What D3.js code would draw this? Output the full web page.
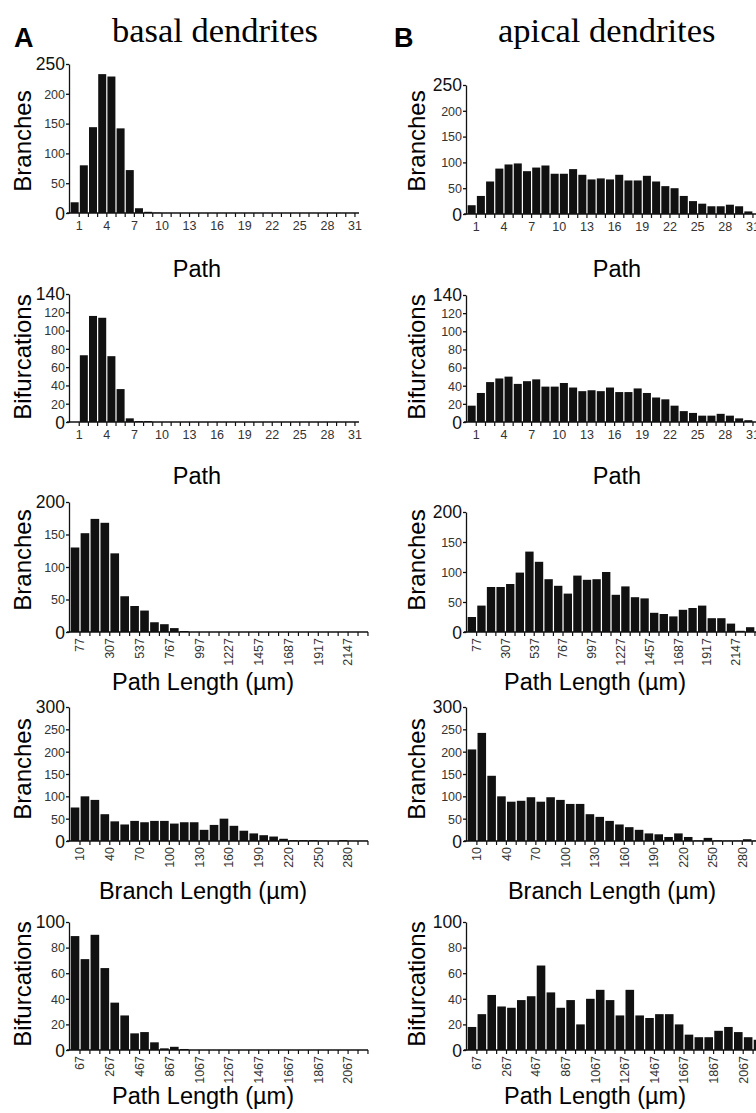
<html>
<head>
<meta charset="utf-8">
<script src="https://d3js.org/d3.v7.min.js"></script>
<style>
body{margin:0;background:#fff;}
svg{display:block;font-family:"Liberation Sans",Arial,sans-serif;}
</style>
</head>
<body>
<div id="chart"></div>
<script>
// tick labels (one label every 3rd bin)
const pathTicks = ['1','4','7','10','13','16','19','22','25','28','31'];
const pathLengthTicks = ['77','307','537','767','997','1227','1457','1687','1917','2147'];
const branchLengthTicks = ['10','40','70','100','130','160','190','220','250','280'];
const bifLengthTicks = ['67','267','467','867','1067','1267','1467','1667','1867','2067'];

// basal dendrites
const basalBranchesPath = [18,80,144,233,229,142,72,8,2,0.5,0,0,0,0,0,0,0,0,0,0,0,0,0,0,0,0,0,0,0,0,0];
const basalBifPath = [0,73,116,114,72,36,4,1,1,0,0,0,0,0,0,0,0,0,0,0,0,0,0,0,0,0,0,0,0,0,0];
const basalBranchesPathLength = [130,152,174,168,121,55,40,33,15,12,6,1.5,0,0,0,0,0,0,0,0,0,0,0,0,0,0,0,0,0,0];
const basalBranchesBranchLength = [75,100,92,60,44,37,45,42,45,45,39,42,42,25,36,50,34,23,17,13,10,5,2,2,2,1,0.5,2,0.5,0.5];
const basalBifPathLength = [89,71,90,64,37,27,13,14,6,1.3,2.5,0.8,0,0,0,0,0,0,0,0,0,0,0,0,0,0,0,0,0,0];

// apical dendrites
const apicalBranchesPath = [17,35,63,88,96,98,83,90,94,78,78,87,76,67,69,67,76,65,65,74,63,54,50,35,25,20,15,15,18,15,5];
const apicalBifPath = [18,32,44,48,50,42,45,47,39,39,43,38,34,35,34,38,33,33,37,32,27,25,18,12,10,7,7,9,7,4,2];
const apicalBranchesPathLength = [25,44,75,75,80,99,134,117,88,77,64,94,87,88,100,62,76,58,56,32,30,26,37,40,44,23,23,14,2,8];
const apicalBranchesBranchLength = [205,242,146,100,88,90,98,88,98,92,83,83,60,54,45,37,31,25,17,15,9,17,9,1.5,7,1.5,1,1,4,1];
const apicalBifPathLength = [18,28,43,34,33,39,42,66,45,33,39,20,40,47,39,27,47,27,25,28,28,20,12,10,10,15,18,14,10,8];

const W = 756, H = 1113;

const rows = [
  {yMax:250, yStep:50, yLabel:'Branches', xTitle:'Path', ticks:pathTicks, rotate:false, n:31,
   labelY:141, titleY:277,
   A:{data:basalBranchesPath, top:64, bottom:213, x0:70, x1:355, end:359, titleX:197},
   B:{data:apicalBranchesPath, top:85, bottom:214, x0:467, x1:753, end:760, titleX:617}},
  {yMax:140, yStep:20, yLabel:'Bifurcations', xTitle:'Path', ticks:pathTicks, rotate:false, n:31,
   labelY:357, titleY:484,
   A:{data:basalBifPath, top:294, bottom:422, x0:70, x1:355, end:359, titleX:197},
   B:{data:apicalBifPath, top:295, bottom:422, x0:467, x1:753, end:760, titleX:617}},
  {yMax:200, yStep:50, yLabel:'Branches', xTitle:'Path Length (µm)', ticks:pathLengthTicks, rotate:true, n:30,
   labelY:560, titleY:690,
   A:{data:basalBranchesPathLength, top:502, bottom:632, x0:70, x1:368, end:368, titleX:203},
   B:{data:apicalBranchesPathLength, top:512, bottom:632, x0:467, x1:755, end:760, titleX:595}},
  {yMax:300, yStep:50, yLabel:'Branches', xTitle:'Branch Length (µm)', ticks:branchLengthTicks, rotate:true, n:30,
   labelY:769, titleY:899,
   A:{data:basalBranchesBranchLength, top:707, bottom:841, x0:70, x1:368, end:368, titleX:203},
   B:{data:apicalBranchesBranchLength, top:707, bottom:841, x0:467, x1:762, end:765, titleX:612}},
  {yMax:100, yStep:20, yLabel:'Bifurcations', xTitle:'Path Length (µm)', ticks:bifLengthTicks, rotate:true, n:30,
   labelY:984, titleY:1104,
   A:{data:basalBifPathLength, top:922, bottom:1050, x0:70, x1:368, end:368, titleX:203},
   B:{data:apicalBifPathLength, top:922, bottom:1050, x0:467, x1:763, end:765, titleX:595}}
];

const svg = d3.select('#chart').append('svg')
  .attr('width', W)
  .attr('height', H);

// header
const header = [
  {letter:'A', lx:14, title:'basal dendrites', tx:112},
  {letter:'B', lx:394, title:'apical dendrites', tx:498}
];
header.forEach(h=>{
  svg.append('text').attr('x',h.lx).attr('y',47)
    .attr('font-size',27).attr('font-weight','bold').text(h.letter);
  svg.append('text').attr('x',h.tx).attr('y',42)
    .attr('font-family','"Liberation Serif","Times New Roman",serif')
    .attr('font-size',34.5).text(h.title);
});

function panel(row, p, axisX){
  const g = svg.append('g');

  const x = d3.scaleBand()
    .domain(d3.range(row.n))
    .range([p.x0, p.x1])
    .paddingInner(0.13)
    .paddingOuter(0.07);

  const y = d3.scaleLinear()
    .domain([0, row.yMax])
    .range([p.bottom, p.top]);

  g.selectAll('rect')
    .data(p.data)
    .enter()
    .append('rect')
      .attr('x',(d,i)=>x(i))
      .attr('y',d=>y(d))
      .attr('width',x.bandwidth())
      .attr('height',d=>y(0)-y(d))
      .attr('fill','#111');

  // y axis
  const yTicks = d3.range(0, row.yMax + 1, row.yStep);
  const ya = g.append('g')
    .attr('transform',`translate(${p.x0-1},0)`)
    .call(d3.axisLeft(y).tickValues(yTicks).tickSize(3).tickSizeOuter(0).tickPadding(1));
  ya.selectAll('path,line').attr('stroke','#111').attr('stroke-width',1.3);
  ya.selectAll('text')
    .attr('font-size',d=>(d===0||d===row.yMax)?17.5:12.5)
    .attr('fill',d=>(d===0||d===row.yMax)?'#111':'#333')
    .attr('dy',d=>d===row.yMax?'0.3em':'0.35em');

  // x axis: ticks on bin edges, labels every 3rd bin
  const half = x.step()/2;
  const xa = g.append('g')
    .attr('transform',`translate(${half},${p.bottom})`)
    .call(d3.axisBottom(x)
      .tickSize(4)
      .tickPadding(4)
      .tickFormat(i=> i%3===0 ? row.ticks[i/3] : ''));
  xa.select('.domain').remove();
  xa.selectAll('line').attr('stroke','#111').attr('stroke-width',1.2);
  xa.selectAll('text').attr('font-size',12.5).attr('fill','#333');
  if(row.rotate){
    xa.selectAll('text')
      .attr('transform','rotate(-90)')
      .attr('text-anchor','end')
      .attr('x',-6)
      .attr('y',0)
      .attr('dy','0.35em');
  }
  g.append('line')
    .attr('x1',p.x0-3).attr('x2',p.end)
    .attr('y1',p.bottom).attr('y2',p.bottom)
    .attr('stroke','#111').attr('stroke-width',1.6);

  // axis titles
  g.append('text')
    .attr('transform',`translate(${axisX},${row.labelY}) rotate(-90)`)
    .attr('text-anchor','middle')
    .attr('dy','0.35em')
    .attr('font-size',24)
    .text(row.yLabel);
  g.append('text')
    .attr('x',p.titleX).attr('y',row.titleY)
    .attr('text-anchor','middle')
    .attr('font-size',23.5)
    .text(row.xTitle);
}

rows.forEach(r=>{
  panel(r, r.A, 23);
  panel(r, r.B, 417);
});
</script>
</body>
</html>
